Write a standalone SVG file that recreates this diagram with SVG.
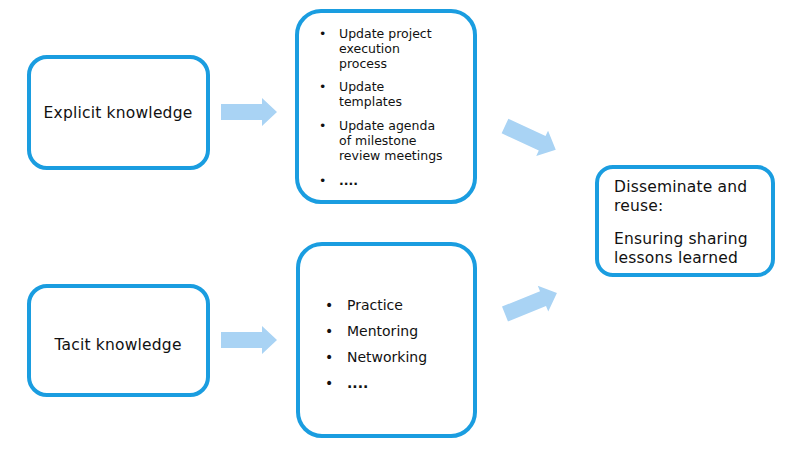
<svg xmlns="http://www.w3.org/2000/svg" xmlns:xlink="http://www.w3.org/1999/xlink" width="800" height="450" viewBox="0 0 800 450">
<style>
.box{fill:#fff;stroke:#1a9de0;stroke-width:4}
.t{font-family:"DejaVu Sans",Verdana,sans-serif;fill:#111}
.l{font-size:15.5px;letter-spacing:0.2px}
.s{font-size:12.5px}
.m{font-size:14px}
.arr{fill:#a9d3f4}
</style>
<defs>
<polygon id="arrow" points="0,-8 41,-8 41,-14 56,0 41,14 41,8 0,8"/>
</defs>
<rect width="800" height="450" fill="#fff"/>
<g id="explicit">
<rect class="box" x="29" y="57" width="179" height="111" rx="18"/>
<text class="t l" x="118" y="118" text-anchor="middle">Explicit knowledge</text>
</g>
<g id="tacit">
<rect class="box" x="29" y="286" width="179" height="109" rx="18"/>
<text class="t l" x="118" y="350" text-anchor="middle">Tacit knowledge</text>
</g>
<g id="explicit-actions">
<rect class="box" x="297" y="11" width="178" height="191" rx="24"/>
<g class="t s">
<text x="319" y="38">•</text>
<text x="339" y="38">Update project</text>
<text x="339" y="53">execution</text>
<text x="339" y="68">process</text>
<text x="319" y="91">•</text>
<text x="339" y="91">Update</text>
<text x="339" y="106">templates</text>
<text x="319" y="130">•</text>
<text x="339" y="130">Update agenda</text>
<text x="339" y="145">of milestone</text>
<text x="339" y="160">review meetings</text>
<text x="319" y="185">•</text>
<text x="339" y="185" font-weight="bold">....</text>
</g>
</g>
<g id="tacit-actions">
<rect class="box" x="298" y="244" width="177" height="192" rx="24"/>
<g class="t m">
<text x="325" y="310">•</text>
<text x="347" y="310">Practice</text>
<text x="325" y="336">•</text>
<text x="347" y="336">Mentoring</text>
<text x="325" y="362">•</text>
<text x="347" y="362">Networking</text>
<text x="325" y="388">•</text>
<text x="347" y="388" font-weight="bold">....</text>
</g>
</g>
<g id="disseminate">
<rect class="box" x="597" y="167" width="176" height="108" rx="16"/>
<g class="t l">
<text x="614" y="192">Disseminate and</text>
<text x="614" y="211">reuse:</text>
<text x="614" y="244">Ensuring sharing</text>
<text x="614" y="263">lessons learned</text>
</g>
</g>
<g id="connectors" class="arr">
<use xlink:href="#arrow" transform="translate(221,112)"/>
<use xlink:href="#arrow" transform="translate(221,340)"/>
<use xlink:href="#arrow" transform="translate(505,126) rotate(25)"/>
<use xlink:href="#arrow" transform="translate(505,314) rotate(-22)"/>
</g>
</svg>
